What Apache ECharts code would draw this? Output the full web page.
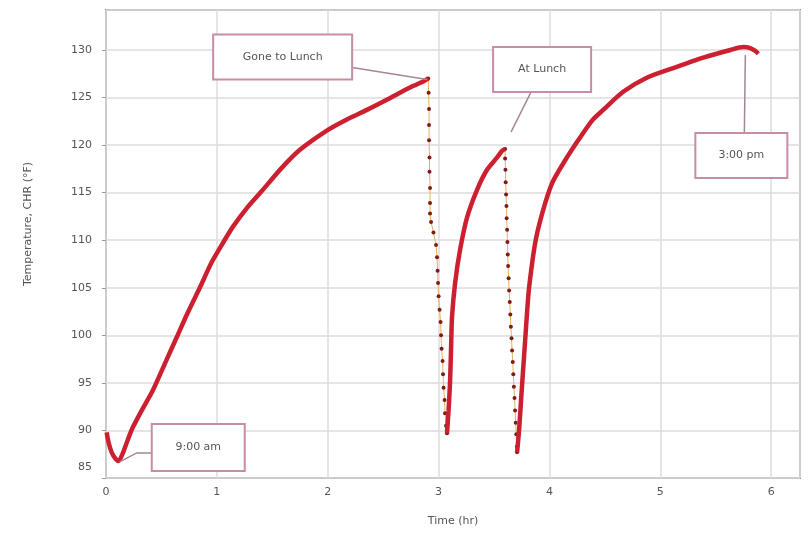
<!DOCTYPE html>
<html>
<head>
<meta charset="utf-8">
<script src="https://cdn.jsdelivr.net/npm/echarts@6/dist/echarts.min.js"></script>
<style>
  html, body { margin: 0; padding: 0; background: #fff; }
  #chart { width: 809px; height: 542px; }
</style>
</head>
<body>
<div id="chart"></div>
<script>
// time in hours after 9:00 am, temperature in °F
var morningRise = [
  [0.006, 89.8], [0.024, 88.7], [0.051, 87.7], [0.088, 87.0], [0.115, 86.8],
  [0.151, 87.6], [0.196, 89.0], [0.241, 90.3], [0.331, 92.3], [0.422, 94.2],
  [0.530, 97.0], [0.638, 99.8], [0.738, 102.4], [0.846, 105.0], [0.954, 107.7],
  [1.054, 109.7], [1.144, 111.4], [1.279, 113.5], [1.415, 115.3], [1.577, 117.5],
  [1.749, 119.5], [2.002, 121.6], [2.173, 122.7], [2.354, 123.7], [2.507, 124.6],
  [2.652, 125.5], [2.769, 126.2], [2.878, 126.8], [2.906, 127.0]
];
// sparse readings while the engine cools (shown as dots)
var lunchDrop = [
  [2.906, 127.0], [2.910, 125.5], [2.914, 123.8], [2.914, 122.1], [2.914, 120.5],
  [2.918, 118.7], [2.918, 117.2], [2.923, 115.5], [2.923, 113.9], [2.923, 112.8],
  [2.932, 111.9], [2.954, 110.8], [2.977, 109.5], [2.986, 108.2], [2.991, 106.8],
  [2.995, 105.5], [3.000, 104.1], [3.009, 102.7], [3.018, 101.4], [3.022, 100.0],
  [3.027, 98.6], [3.036, 97.3], [3.040, 95.9], [3.045, 94.5], [3.054, 93.2],
  [3.058, 91.8], [3.067, 90.5], [3.076, 89.7]
];
var lunchRecovery = [
  [3.076, 89.7], [3.090, 92.1], [3.103, 95.0], [3.112, 98.4], [3.121, 101.9],
  [3.149, 105.5], [3.194, 109.0], [3.257, 112.4], [3.347, 115.3], [3.437, 117.4],
  [3.528, 118.7], [3.573, 119.4], [3.600, 119.6]
];
var lunchDrop2 = [
  [3.600, 119.6], [3.600, 118.6], [3.603, 117.4], [3.605, 116.1], [3.609, 114.8],
  [3.612, 113.6], [3.614, 112.3], [3.618, 111.1], [3.621, 109.8], [3.624, 108.5],
  [3.627, 107.3], [3.632, 106.0], [3.636, 104.7], [3.642, 103.5], [3.647, 102.2],
  [3.652, 100.9], [3.658, 99.7], [3.663, 98.4], [3.669, 97.2], [3.674, 95.9],
  [3.679, 94.6], [3.685, 93.4], [3.690, 92.1], [3.696, 90.8], [3.701, 89.6],
  [3.707, 88.3], [3.708, 87.7]
];
var afternoonRise = [
  [3.708, 87.7], [3.726, 90.0], [3.744, 93.2], [3.762, 96.3], [3.781, 99.5],
  [3.799, 102.6], [3.817, 105.1], [3.871, 109.7], [3.934, 112.8], [4.024, 116.0],
  [4.142, 118.4], [4.259, 120.5], [4.386, 122.6], [4.485, 123.7], [4.665, 125.6],
  [4.882, 127.1], [5.117, 128.1], [5.388, 129.2], [5.632, 130.0], [5.749, 130.3],
  [5.811, 130.2], [5.857, 129.9], [5.884, 129.6]
];
var xTicks = [0, 1, 2, 3, 4, 5, 6];
var yTicks = [85, 90, 95, 100, 105, 110, 115, 120, 125, 130];
var notes = [
  { text: 'Gone to Lunch', at: [2.906, 127.0] },
  { text: 'At Lunch', at: [3.600, 119.6] },
  { text: '3:00 pm', at: [5.749, 130.3] },
  { text: '9:00 am', at: [0.115, 86.8] }
];

var chart = echarts.init(document.getElementById('chart'));
var redLine = { color: '#cc1f30', width: 4.5 };
var dotLine = { color: '#e3b35c', width: 1 };

var option = {
  animation: false,
  grid: {
    left: 106, right: 9, top: 10, bottom: 64,
    show: true, borderColor: '#9a9a9a', borderWidth: 2, backgroundColor: '#fff'
  },
  xAxis: {
    type: 'value', min: xTicks[0], max: 6.26, interval: 1,
    axisLine: { show: false }, axisTick: { show: false },
    splitLine: { lineStyle: { color: '#dcdcdc', width: 1.5 } },
    axisLabel: { color: '#555', fontSize: 11, fontFamily: 'DejaVu Sans', margin: 9, showMaxLabel: false },
    name: 'Time (hr)', nameLocation: 'middle', nameGap: 38,
    nameTextStyle: { color: '#555', fontSize: 11, fontFamily: 'DejaVu Sans' }
  },
  yAxis: {
    type: 'value', min: yTicks[0], max: 134.2, interval: 5,
    axisLine: { show: false },
    axisTick: { show: true, length: 4, lineStyle: { color: '#999' } },
    splitLine: { lineStyle: { color: '#dcdcdc', width: 1.5 } },
    axisLabel: {
      color: '#555', fontSize: 11, fontFamily: 'DejaVu Sans', margin: 14, showMaxLabel: false,
      formatter: function (v) { return v === yTicks[0] ? '{low|' + v + '}' : v; },
      rich: { low: { color: '#555', fontSize: 11, fontFamily: 'DejaVu Sans', padding: [0, 0, 22, 0] } }
    },
    name: 'Temperature, CHR (°F)', nameLocation: 'middle', nameGap: 72,
    nameTextStyle: { color: '#555', fontSize: 11, fontFamily: 'DejaVu Sans', padding: [0, 0, 0, 40] }
  },
  series: [
    { type: 'line', data: morningRise, showSymbol: false, smooth: 0.25, lineStyle: redLine, z: 3 },
    { type: 'line', data: lunchDrop, symbol: 'circle', symbolSize: 4,
      itemStyle: { color: '#7d1c1c' }, lineStyle: dotLine, z: 2 },
    { type: 'line', data: lunchRecovery, showSymbol: false, smooth: 0.25, lineStyle: redLine, z: 3 },
    { type: 'line', data: lunchDrop2, symbol: 'circle', symbolSize: 4,
      itemStyle: { color: '#7d1c1c' }, lineStyle: dotLine, z: 2 },
    { type: 'line', data: afternoonRise, showSymbol: false, smooth: 0.25, lineStyle: redLine, z: 3 }
  ]
};
chart.setOption(option);

// callout boxes, placed relative to the point they label
var boxOffsets = [
  { dx: -215, dy: -44, w: 139, h: 45, from: [139, 33], bend: null, to: [-1, 1] },
  { dx: -12, dy: -102, w: 98, h: 45, from: [38, 45], bend: null, to: [6, -17] },
  { dx: -48, dy: 86, w: 92, h: 45, from: [49, 0], bend: null, to: [2, 8] },
  { dx: 33, dy: -37, w: 93, h: 47, from: [0, 29], bend: [-15, 29], to: [1, 1] }
];
var graphics = [];
notes.forEach(function (n, i) {
  var p = chart.convertToPixel({ seriesIndex: 0 }, n.at);
  var o = boxOffsets[i];
  var bx = p[0] + o.dx, by = p[1] + o.dy;
  var pts = [[bx + o.from[0], by + o.from[1]]];
  if (o.bend) pts.push([bx + o.bend[0], by + o.bend[1]]);
  pts.push([p[0] + o.to[0], p[1] + o.to[1]]);
  graphics.push({
    type: 'polyline', shape: { points: pts }, z: 10,
    style: { stroke: '#a58597', lineWidth: 1.5, fill: null }
  });
  graphics.push({
    type: 'rect', shape: { x: bx, y: by, width: o.w, height: o.h }, z: 11,
    style: { fill: '#fff', stroke: '#c98ba6', lineWidth: 2 }
  });
  graphics.push({
    type: 'text', x: bx + o.w / 2, y: by + o.h / 2, z: 12,
    style: { text: n.text, fill: '#555', font: '11px "DejaVu Sans"', align: 'center', verticalAlign: 'middle' }
  });
});
chart.setOption({ graphic: graphics });
</script>
</body>
</html>
